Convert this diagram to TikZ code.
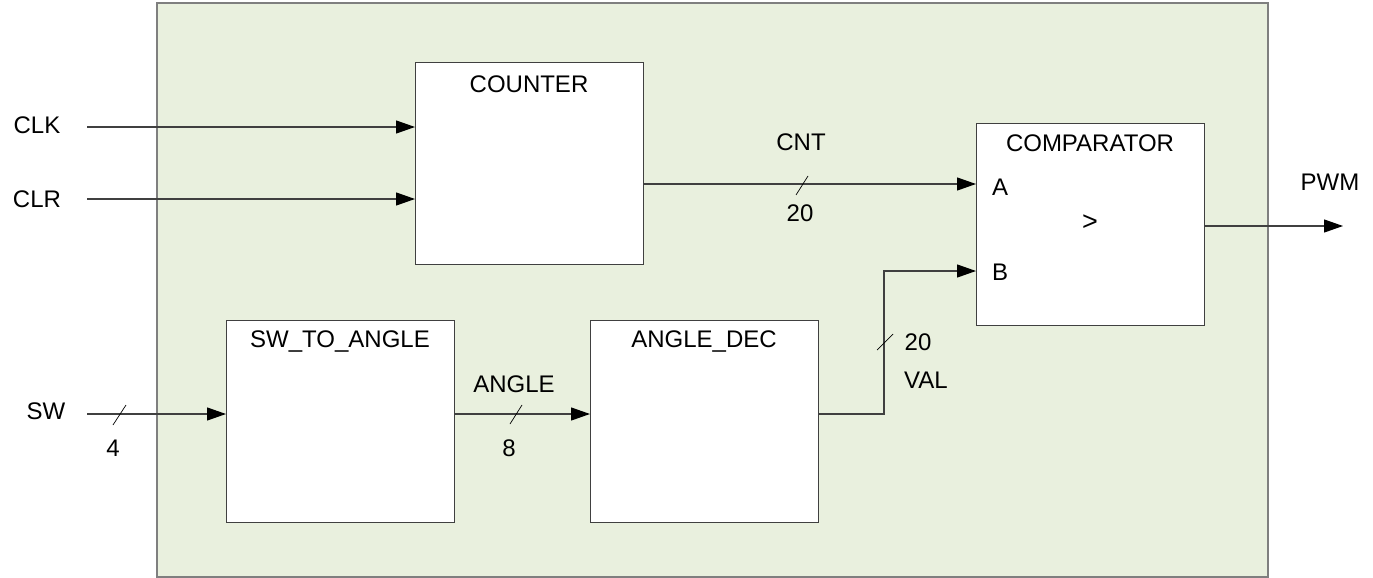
\documentclass[tikz,border=0pt]{standalone}
\usepackage{fontspec}
\setmainfont{Liberation Sans}
\usetikzlibrary{arrows.meta}
\definecolor{bgfill}{HTML}{E9F0DE}
\definecolor{bgedge}{HTML}{7F7F7F}
\definecolor{boxedge}{HTML}{404040}
\begin{document}
\begin{tikzpicture}[x=1pt,y=-1pt,
  lbl/.style={inner sep=0pt, font=\fontsize{24}{28}\selectfont},
  blk/.style={draw=boxedge, line width=1.3pt, fill=white, minimum width=228pt, minimum height=202pt, inner sep=0pt, anchor=north west},
  wire/.style={draw=black!75, line width=1.2pt},
  arr/.style={wire, -{Triangle[length=19pt,width=13pt,color=black]}},
  busmark/.style={draw=black, line width=0.7pt}]
\useasboundingbox (0,0) rectangle (1373,578);
% background
\node[draw=bgedge, line width=2pt, fill=bgfill, minimum width=1111pt, minimum height=574pt, inner sep=0pt, anchor=north west] (bg) at (156,2) {};
% blocks
\node[blk] (cnt) at (415,62) {};
\node[blk] (cmp) at (976,123) {};
\node[blk] (sw2a) at (226,320) {};
\node[blk] (adec) at (590,320) {};
% block titles
\node[lbl] (cntT) at (529,84) {COUNTER};
\node[lbl] (cmpT) at (1090,143) {COMPARATOR};
\node[lbl] (sw2aT) at (340,342) {SW\_TO\_ANGLE};
\node[lbl] (adecT) at (704,342) {ANGLE\_DEC};
\node[lbl] (portA) at (1000,187) {A};
\node[lbl] (portB) at (1000,272) {B};
\node[lbl,font=\fontsize{27}{30}\selectfont] (gt) at (1090,223) {>};
% external labels
\node[lbl] (clkL) at (37,125) {CLK};
\node[lbl] (clrL) at (37,199) {CLR};
\node[lbl] (swL) at (46,411) {SW};
\node[lbl] (pwmL) at (1330,182) {PWM};
% signal labels
\node[lbl] (cntL) at (801,142) {CNT};
\node[lbl] (cntW) at (800,213) {20};
\node[lbl] (angL) at (514,384) {ANGLE};
\node[lbl] (angW) at (509,448) {8};
\node[lbl] (swW) at (113,448) {4};
\node[lbl] (valW) at (918,342) {20};
\node[lbl] (valL) at (926,380) {VAL};
% connector end points
\coordinate (clk0) at (87,127);
\coordinate (clr0) at (87,199);
\coordinate (sw0) at (87,414);
\coordinate (cntY) at (643,184);
\coordinate (bY) at (976,271);
\coordinate (pwmY) at (1205,226);
\coordinate (pwm1) at (1343,226);
\coordinate (angY) at (454,414);
\coordinate (valX) at (884,414);
% connectors
\draw[arr] (clk0) -- (clk0 -| cnt.west);
\draw[arr] (clr0) -- (clr0 -| cnt.west);
\draw[arr] (sw0) -- (sw0 -| sw2a.west);
\draw[arr] (angY) -- (angY -| adec.west);
\draw[arr] (cntY) -- (cntY -| cmp.west);
\draw[arr] (pwmY) -- (pwm1);
\draw[arr] (valX -| adec.east) -- (valX) -- (valX |- bY) -- (bY);
% bus width marks
\draw[busmark] (113,425) -- (126,405);
\draw[busmark] (510,424) -- (522,405);
\draw[busmark] (796,195) -- (808,176);
\draw[busmark] (877,350) -- (893,334);
\end{tikzpicture}
\end{document}
